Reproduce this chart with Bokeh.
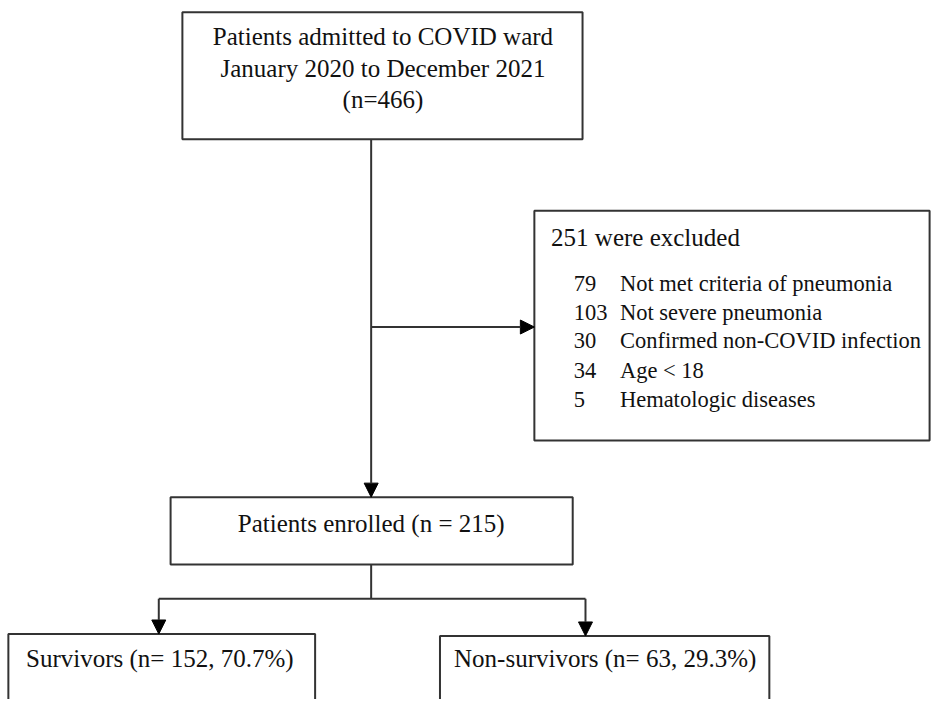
from bokeh.plotting import figure
from bokeh.models import Range1d, Arrow, NormalHead, ColumnDataSource
from bokeh.core.properties import value
from bokeh.embed import file_html
from bokeh.resources import INLINE

# ---- data ----
admitted_lines = ["Patients admitted to COVID ward", "January 2020 to December 2021", "(n=466)"]
excluded_title = "251 were excluded"
excluded_counts = ["79", "103", "30", "34", "5"]
excluded_reasons = ["Not met criteria of pneumonia", "Not severe pneumonia",
                    "Confirmed non-COVID infection", "Age < 18", "Hematologic diseases"]
enrolled_label = "Patients enrolled (n = 215)"
outcome_labels = ["Survivors (n= 152, 70.7%)", "Non-survivors (n= 63, 29.3%)"]

# ---- layout (reference pixel space) ----
FONT = value("Liberation Serif")
FS = "25px"
FS_ITEM = "22.5px"
LC = "#333333"
TC = "#111111"

p = figure(width=935, height=699, output_backend="svg", toolbar_location=None,
           x_range=Range1d(0, 951), y_range=Range1d(715, 0), min_border=0)
p.axis.visible = False
p.grid.visible = False
p.outline_line_color = None

boxes = dict(left=[185, 543, 173, 8, 447], right=[592, 945, 582, 320, 782],
             top=[12, 215, 508, 648, 650], bottom=[142, 450, 577, 760, 760])
p.quad(source=ColumnDataSource(boxes), left="left", right="right", top="top", bottom="bottom",
       fill_color="white", line_color=LC, line_width=2)

# connectors
p.segment(x0=[377, 161], y0=[577, 612], x1=[377, 595], y1=[612, 612], line_color=LC, line_width=2)

arrows = [((377, 142), (377, 508)), ((377, 334), (543, 334)),
          ((161, 612), (161, 648)), ((595, 612), (595, 650))]
for (xs, ys), (xe, ye) in arrows:
    p.add_layout(Arrow(end=NormalHead(size=14, fill_color="black", line_color="black", line_width=1),
                       x_start=xs, y_start=ys, x_end=xe, y_end=ye,
                       line_color=LC, line_width=2))

# texts
p.text(x=[389] * 3, y=[37, 70, 101], text=admitted_lines, text_font=FONT, text_font_size=FS,
       text_align="center", text_baseline="middle", text_color=TC)
p.text(x=[560], y=[242], text=[excluded_title], text_font=FONT, text_font_size=FS,
       text_align="left", text_baseline="middle", text_color=TC)
item_y = [289, 319, 348, 378, 408]
p.text(x=[583] * 5, y=item_y, text=excluded_counts, text_font=FONT, text_font_size=FS_ITEM,
       text_align="left", text_baseline="middle", text_color=TC)
p.text(x=[630] * 5, y=item_y, text=excluded_reasons, text_font=FONT, text_font_size=FS_ITEM,
       text_align="left", text_baseline="middle", text_color=TC)
p.text(x=[377], y=[535], text=[enrolled_label], text_font=FONT, text_font_size=FS,
       text_align="center", text_baseline="middle", text_color=TC)
p.text(x=[162, 615], y=[673, 673], text=outcome_labels, text_font=FONT, text_font_size=FS,
       text_align="center", text_baseline="middle", text_color=TC)

open("out.html", "w").write(file_html(p, INLINE))
